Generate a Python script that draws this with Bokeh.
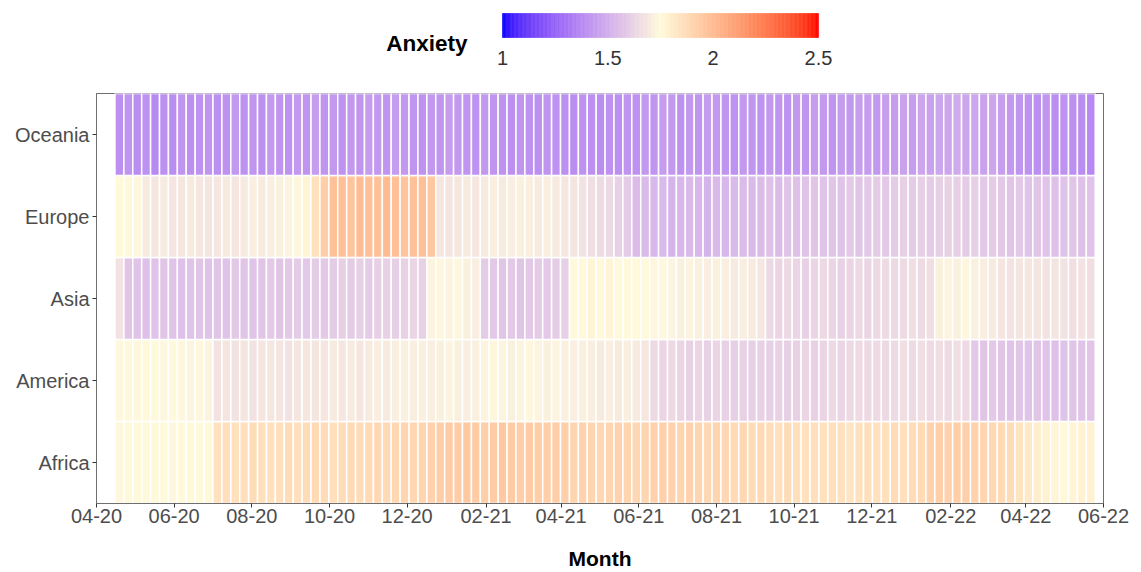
import numpy as np
import pandas as pd

from bokeh.plotting import figure
from bokeh.layouts import column
from bokeh.models import (ColumnDataSource, LinearColorMapper, FactorRange, Range1d,
                          FixedTicker, DatetimeTickFormatter)
from bokeh.transform import transform
from bokeh.core.properties import value
from bokeh.embed import file_html
from bokeh.resources import INLINE

# ---------------------------------------------------------------------------
# Weekly mean anxiety score per region (one value per week, starting mid-April 2020)
# ---------------------------------------------------------------------------
regions = ["Africa", "America", "Asia", "Europe", "Oceania"]
first_week = "2020-04-19"

oceania = [
    1.40, 1.42, 1.39, 1.41, 1.38, 1.40, 1.39, 1.42, 1.40, 1.41,
    1.42, 1.40, 1.41, 1.43, 1.41, 1.42, 1.40, 1.43, 1.42, 1.41,
    1.43, 1.42, 1.44, 1.42, 1.43, 1.41, 1.43, 1.42, 1.44, 1.43,
    1.42, 1.44, 1.43, 1.42, 1.41, 1.43, 1.42, 1.44, 1.43, 1.42,
    1.41, 1.43, 1.42, 1.41, 1.40, 1.42, 1.41, 1.40, 1.42, 1.41,
    1.40, 1.39, 1.41, 1.40, 1.39, 1.41, 1.40, 1.42, 1.41, 1.43,
    1.42, 1.44, 1.43, 1.41, 1.43, 1.42, 1.44, 1.43, 1.42, 1.41,
    1.43, 1.42, 1.41, 1.43, 1.42, 1.41, 1.43, 1.42, 1.44, 1.43,
    1.42, 1.44, 1.43, 1.45, 1.44, 1.43, 1.45, 1.44, 1.46, 1.45,
    1.47, 1.46, 1.48, 1.47, 1.49, 1.47, 1.48, 1.46, 1.47, 1.45,
    1.43, 1.42, 1.41, 1.40, 1.42, 1.39, 1.41, 1.40, 1.39, 1.38,
]

europe = [
    1.76, 1.75, 1.74, 1.70, 1.69, 1.70, 1.68, 1.69, 1.70, 1.69,
    1.68, 1.69, 1.70, 1.69, 1.70, 1.71, 1.70, 1.71, 1.72, 1.73,
    1.74, 1.77, 1.85, 1.93, 1.98, 1.99, 1.97, 2.00, 1.99, 1.98,
    2.00, 1.99, 1.97, 1.98, 1.99, 1.96, 1.69, 1.68, 1.69, 1.70,
    1.69, 1.70, 1.71, 1.70, 1.71, 1.72, 1.71, 1.70, 1.71, 1.70,
    1.69, 1.68, 1.67, 1.66, 1.65, 1.64, 1.62, 1.60, 1.55, 1.54,
    1.53, 1.54, 1.52, 1.53, 1.54, 1.53, 1.52, 1.54, 1.53, 1.54,
    1.55, 1.54, 1.55, 1.56, 1.55, 1.57, 1.56, 1.57, 1.58, 1.57,
    1.58, 1.57, 1.59, 1.58, 1.59, 1.60, 1.59, 1.60, 1.61, 1.60,
    1.61, 1.60, 1.61, 1.62, 1.61, 1.60, 1.61, 1.59, 1.60, 1.59,
    1.58, 1.59, 1.57, 1.58, 1.57, 1.56, 1.57, 1.58, 1.56, 1.57,
]

asia = [
    1.67, 1.58, 1.57, 1.56, 1.57, 1.58, 1.57, 1.56, 1.57, 1.58,
    1.57, 1.58, 1.57, 1.59, 1.58, 1.57, 1.58, 1.59, 1.58, 1.59,
    1.60, 1.59, 1.60, 1.59, 1.60, 1.61, 1.60, 1.61, 1.60, 1.61,
    1.62, 1.61, 1.62, 1.63, 1.62, 1.73, 1.74, 1.73, 1.74, 1.72,
    1.71, 1.60, 1.59, 1.58, 1.59, 1.58, 1.59, 1.60, 1.59, 1.60,
    1.61, 1.75, 1.76, 1.77, 1.76, 1.77, 1.76, 1.75, 1.76, 1.75,
    1.74, 1.74, 1.73, 1.72, 1.73, 1.72, 1.71, 1.72, 1.71, 1.70,
    1.71, 1.70, 1.69, 1.64, 1.63, 1.64, 1.63, 1.62, 1.63, 1.64,
    1.63, 1.62, 1.63, 1.64, 1.63, 1.64, 1.65, 1.64, 1.65, 1.66,
    1.65, 1.66, 1.72, 1.73, 1.72, 1.74, 1.72, 1.71, 1.70, 1.68,
    1.67, 1.68, 1.69, 1.68, 1.67, 1.68, 1.67, 1.66, 1.67, 1.66,
]

america = [
    1.74, 1.75, 1.74, 1.76, 1.75, 1.74, 1.75, 1.74, 1.73, 1.74,
    1.73, 1.67, 1.68, 1.67, 1.68, 1.67, 1.68, 1.69, 1.68, 1.67,
    1.68, 1.69, 1.68, 1.69, 1.70, 1.69, 1.70, 1.69, 1.70, 1.71,
    1.70, 1.71, 1.72, 1.71, 1.72, 1.71, 1.72, 1.73, 1.72, 1.71,
    1.72, 1.73, 1.74, 1.73, 1.72, 1.73, 1.74, 1.73, 1.72, 1.73,
    1.72, 1.71, 1.72, 1.71, 1.70, 1.71, 1.70, 1.71, 1.70, 1.69,
    1.64, 1.63, 1.64, 1.63, 1.62, 1.63, 1.62, 1.63, 1.62, 1.61,
    1.62, 1.61, 1.62, 1.61, 1.62, 1.61, 1.62, 1.63, 1.62, 1.63,
    1.64, 1.63, 1.64, 1.65, 1.64, 1.65, 1.64, 1.65, 1.66, 1.65,
    1.66, 1.65, 1.66, 1.65, 1.66, 1.65, 1.59, 1.58, 1.59, 1.58,
    1.57, 1.58, 1.57, 1.58, 1.57, 1.56, 1.57, 1.58, 1.57, 1.58,
]

africa = [
    1.74, 1.75, 1.76, 1.75, 1.76, 1.75, 1.74, 1.75, 1.76, 1.75,
    1.76, 1.85, 1.86, 1.85, 1.86, 1.87, 1.86, 1.85, 1.86, 1.87,
    1.86, 1.87, 1.88, 1.87, 1.86, 1.87, 1.88, 1.87, 1.88, 1.89,
    1.88, 1.89, 1.90, 1.89, 1.90, 1.91, 1.93, 1.94, 1.93, 1.95,
    1.94, 1.93, 1.94, 1.95, 1.94, 1.93, 1.94, 1.93, 1.92, 1.93,
    1.92, 1.90, 1.91, 1.90, 1.89, 1.90, 1.91, 1.90, 1.89, 1.90,
    1.91, 1.92, 1.91, 1.90, 1.91, 1.90, 1.89, 1.90, 1.89, 1.88,
    1.89, 1.87, 1.88, 1.87, 1.86, 1.87, 1.86, 1.85, 1.86, 1.85,
    1.86, 1.85, 1.84, 1.85, 1.86, 1.85, 1.86, 1.87, 1.86, 1.87,
    1.88, 1.91, 1.92, 1.91, 1.93, 1.92, 1.91, 1.90, 1.89, 1.88,
    1.87, 1.84, 1.82, 1.80, 1.78, 1.77, 1.76, 1.77, 1.78, 1.79,
]

series = {"Africa": africa, "America": america, "Asia": asia,
          "Europe": europe, "Oceania": oceania}

scale_ticks = [1, 1.5, 2, 2.5]
month_ticks = pd.date_range("2020-04-01", "2022-06-01", freq="2MS")

n_weeks = len(oceania)
assert all(len(v) == n_weeks for v in series.values())
weeks = pd.date_range(first_week, periods=n_weeks, freq="7D")

# long-format table for the tiles
rows = []
for reg in regions:
    for d, v in zip(weeks, series[reg]):
        rows.append((d, reg, v))
df = pd.DataFrame(rows, columns=["week", "region", "anxiety"])
source = ColumnDataSource(df)

# ---------------------------------------------------------------------------
# Diverging palette: blue -> cream -> red, interpolated in CIE Lab
# ---------------------------------------------------------------------------
def _hex_to_lab(h):
    rgb = np.array([int(h[i:i + 2], 16) for i in (1, 3, 5)]) / 255.0
    lin = np.where(rgb <= 0.04045, rgb / 12.92, ((rgb + 0.055) / 1.055) ** 2.4)
    m = np.array([[0.4124, 0.3576, 0.1805],
                  [0.2126, 0.7152, 0.0722],
                  [0.0193, 0.1192, 0.9505]])
    xyz = m @ lin / np.array([0.95047, 1.0, 1.08883])
    f = np.where(xyz > 216 / 24389, np.cbrt(xyz), (24389 / 27 * xyz + 16) / 116)
    return np.array([116 * f[1] - 16, 500 * (f[0] - f[1]), 200 * (f[1] - f[2])])


def _lab_to_hex(lab):
    L, a, b = lab
    fy = (L + 16) / 116
    fx = fy + a / 500
    fz = fy - b / 200
    f = np.array([fx, fy, fz])
    xyz = np.where(f ** 3 > 216 / 24389, f ** 3, (116 * f - 16) / (24389 / 27))
    xyz = xyz * np.array([0.95047, 1.0, 1.08883])
    m = np.array([[3.2406, -1.5372, -0.4986],
                  [-0.9689, 1.8758, 0.0415],
                  [0.0557, -0.2040, 1.0570]])
    lin = np.clip(m @ xyz, 0, 1)
    rgb = np.where(lin <= 0.0031308, 12.92 * lin, 1.055 * lin ** (1 / 2.4) - 0.055)
    r, g, bb = (np.clip(np.round(rgb * 255), 0, 255)).astype(int)
    return "#{:02x}{:02x}{:02x}".format(r, g, bb)


stops = [_hex_to_lab(c) for c in ("#0000ff", "#fffadc", "#ff0000")]
palette = []
for t in np.linspace(0, 1, 256):
    if t <= 0.5:
        lab = stops[0] + (stops[1] - stops[0]) * (t / 0.5)
    else:
        lab = stops[1] + (stops[2] - stops[1]) * ((t - 0.5) / 0.5)
    palette.append(_lab_to_hex(lab))

mapper = LinearColorMapper(palette=palette, low=scale_ticks[0], high=scale_ticks[-1])

FONT = "Liberation Sans"
TICK_COLOR = "#4d4d4d"

W = 1141
HEAD_H = 92
FRAME_L, FRAME_R = 96, 1103          # plot frame edges (shared by both rows)

# ---------------------------------------------------------------------------
# Colour-scale header (frame aligned with the heat map below)
# ---------------------------------------------------------------------------
bar_left_px, bar_right_px = 502, 818
px_per_unit = (bar_right_px - bar_left_px) / (scale_ticks[-1] - scale_ticks[0])
x_lo = scale_ticks[0] - (bar_left_px - FRAME_L) / px_per_unit
x_hi = scale_ticks[0] + (FRAME_R - bar_left_px) / px_per_unit

head = figure(width=W, height=HEAD_H, x_range=Range1d(x_lo, x_hi), y_range=Range1d(HEAD_H, 0),
              x_axis_location=None, y_axis_location=None, toolbar_location=None,
              output_backend="svg", min_border_left=FRAME_L, min_border_right=W - FRAME_R,
              min_border_top=0, min_border_bottom=0)
head.grid.visible = False
head.outline_line_color = None

edges = np.linspace(scale_ticks[0], scale_ticks[-1], 241)
bar_src = ColumnDataSource(dict(left=edges[:-1], right=edges[1:],
                                mid=(edges[:-1] + edges[1:]) / 2))
head.quad(left="left", right="right", top=13, bottom=37, source=bar_src,
          fill_color=transform("mid", mapper), line_color=transform("mid", mapper),
          line_width=0.6)
head.text(x=scale_ticks, y=[57] * len(scale_ticks), text=[str(t) for t in scale_ticks],
          text_font=value(FONT), text_font_size="20px", text_color="#333333",
          text_align="center", text_baseline="middle")
head.text(x=[scale_ticks[0] - 35 / px_per_unit], y=[43], text=["Anxiety"],
          text_font=value(FONT), text_font_size="22.5px", text_font_style="bold",
          text_color="black", text_align="right", text_baseline="middle")

# ---------------------------------------------------------------------------
# Heat map
# ---------------------------------------------------------------------------
p = figure(width=W, height=572 - HEAD_H, x_axis_type="datetime",
           x_range=Range1d(month_ticks[0], month_ticks[-1]),
           y_range=FactorRange(factors=regions, range_padding=0),
           toolbar_location=None, output_backend="svg",
           min_border_left=FRAME_L, min_border_right=W - FRAME_R,
           min_border_top=1, min_border_bottom=69)

week_ms = 7 * 24 * 3600 * 1000
p.rect(x="week", y="region", width=week_ms, height=1, source=source,
       fill_color=transform("anxiety", mapper), line_color="white", line_width=1.5)

p.grid.visible = False
p.outline_line_color = "#6f6f6f"
p.outline_line_width = 1
p.background_fill_color = "white"
p.border_fill_color = "white"

p.xaxis.ticker = FixedTicker(ticks=[d.timestamp() * 1000 for d in month_ticks])
p.xaxis.formatter = DatetimeTickFormatter(months="%m-%y", days="%m-%y", years="%m-%y")
p.xaxis.axis_label = "Month"

for ax in (p.xaxis[0], p.yaxis[0]):
    ax.axis_line_color = "#6f6f6f"
    ax.major_tick_line_color = "#333333"
    ax.major_tick_out = 4
    ax.major_tick_in = 0
    ax.minor_tick_line_color = None
    ax.major_label_text_font = FONT
    ax.major_label_text_font_size = "20px"
    ax.major_label_text_color = TICK_COLOR
    ax.axis_label_text_font = FONT
    ax.axis_label_text_font_size = "21px"
    ax.axis_label_text_font_style = "bold"
    ax.axis_label_text_color = "black"

p.yaxis.major_label_standoff = 3
p.xaxis.major_label_standoff = 1
p.xaxis.axis_label_standoff = 21

layout = column(head, p, spacing=0)

open("out.html", "w").write(file_html(layout, INLINE))
